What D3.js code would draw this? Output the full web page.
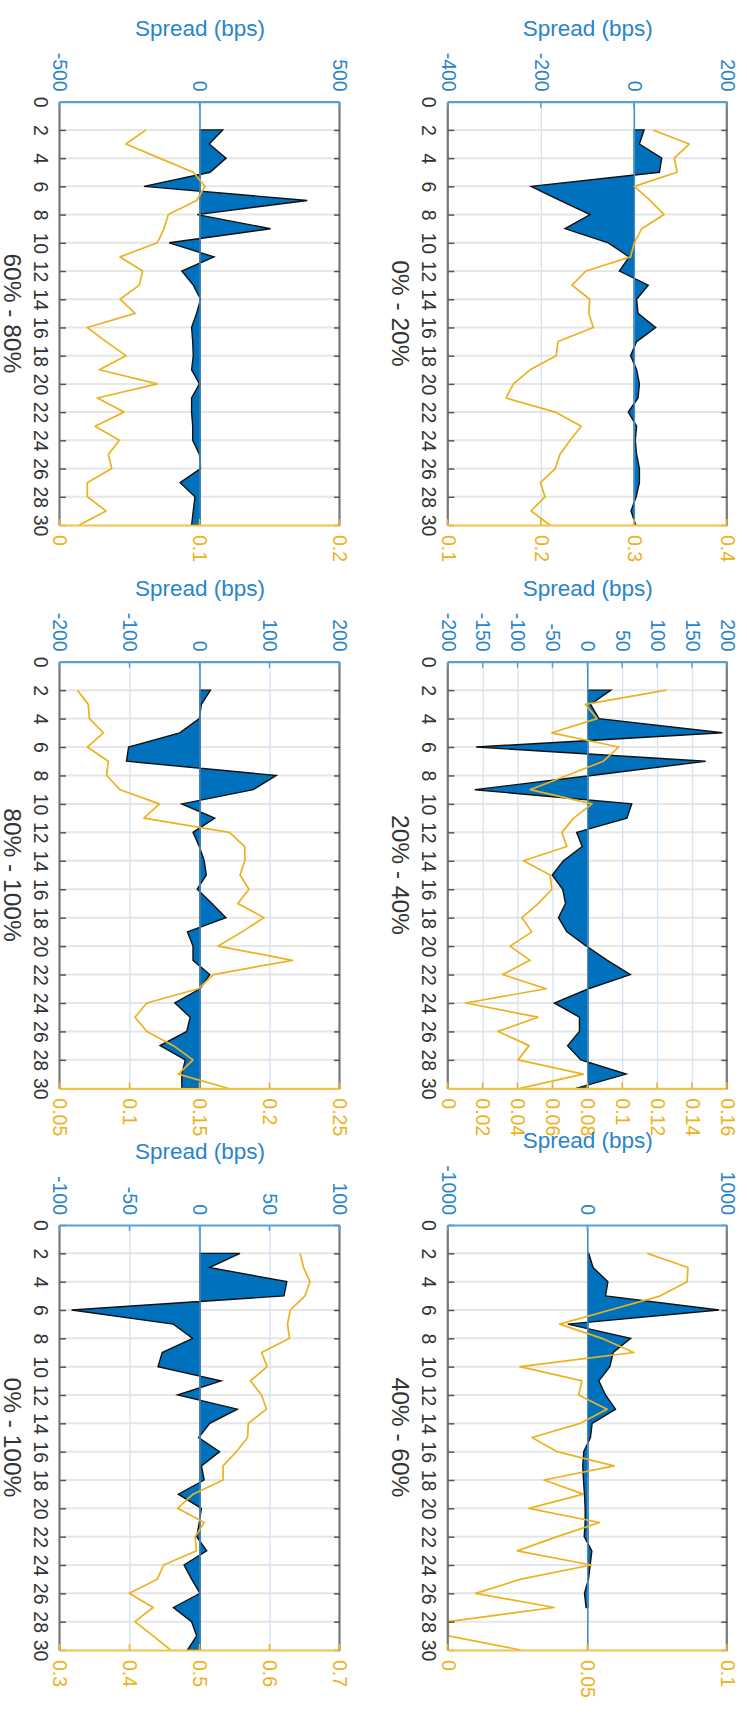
<!DOCTYPE html>
<html><head><meta charset="utf-8">
<script src="https://cdn.jsdelivr.net/npm/d3@7"></script>
<style>html,body{margin:0;padding:0;background:#fff;}svg{display:block;}</style>
</head><body>
<script>
// ---------- data ----------
const horizons = d3.range(2, 31); // 2..30
const xTickValues = d3.range(0, 31, 2);
const panelTitles = ["0% - 20%", "20% - 40%", "40% - 60%", "60% - 80%", "80% - 100%", "0% - 100%"];

const spread_0_20  = [21, 11, 59, 54, -222, -160, -95, -149, -56, -11, -32, 30, 5, 8, 46, 5, -8, 5, 11, 8, -13, 5, 2, 5, 11, 11, 4, -7, 3];
const spread_20_40 = [33, 4, 16, 193, -160, 169, 5, -162, 63, 56, -16, -8, -35, -51, -36, -32, -42, -30, -2, 28, 61, 1, -48, -12, -12, -29, -10, 55, -17];
const spread_40_60 = [7, 38, 144, 127, 941, -144, 307, 182, 158, 79, 127, 199, 31, 19, -29, -36, -31, -24, -19, -19, -26, 29, 17, 5, -24, -12, null, null, null];
const spread_60_80 = [81, 33, 93, 36, -200, 383, -10, 252, -110, 50, -65, -24, 2, -12, -30, -26, -24, -30, -2, -30, -30, -26, -26, -2, 2, -71, -18, -24, -30];
const spread_80_100 = [15, 2, -1, -29, -102, -105, 109, 76, -26, 21, -10, -1, 6, 9, -4, 17, 37, -18, -10, -10, 14, 0, -36, -14, -19, -57, -21, -26, -26];
const spread_0_100 = [28.6, 6.7, 62, 60, -91.7, -19, -5.2, -27, -30, 15, -16, 26.7, 7, -1, 14, 1, 3, -15.5, 1, -0.5, -2.4, 4.8, -11.4, -6, 0, -19, -6, -2.4, -9];

const level_0_20  = [0.320, 0.359, 0.343, 0.346, 0.300, 0.317, 0.332, 0.308, 0.300, 0.296, 0.248, 0.233, 0.252, 0.251, 0.256, 0.218, 0.216, 0.188, 0.170, 0.162, 0.215, 0.243, 0.231, 0.220, 0.215, 0.199, 0.204, 0.189, 0.209];
const level_20_40 = [0.125, 0.0786, 0.0853, 0.0594, 0.0977, 0.089, 0.068, 0.0469, 0.0824, 0.0719, 0.0651, 0.068, 0.0431, 0.0584, 0.0594, 0.0517, 0.0422, 0.0479, 0.0354, 0.0469, 0.0312, 0.0561, 0.0099, 0.0514, 0.0285, 0.0463, 0.040, 0.0774, 0.0411];
const level_40_60 = [0.0713, 0.0859, 0.0856, 0.076, 0.058, 0.0399, 0.055, 0.0665, 0.0257, 0.0479, 0.0467, 0.0569, 0.0473, 0.030, 0.039, 0.0594, 0.0343, 0.0484, 0.0289, 0.0542, 0.039, 0.0247, 0.0513, 0.026, 0.0098, 0.0379, 0, 0, 0.026];
const level_60_80 = [0.0614, 0.0471, 0.0710, 0.0952, 0.1036, 0.0976, 0.0774, 0.0743, 0.0695, 0.0429, 0.0590, 0.0567, 0.0429, 0.0536, 0.0195, 0.0329, 0.0471, 0.0281, 0.0695, 0.0267, 0.0457, 0.0250, 0.0424, 0.0345, 0.0369, 0.0195, 0.0195, 0.0329, 0.0138];
const level_80_100 = [0.0624, 0.0702, 0.071, 0.081, 0.0695, 0.0845, 0.0833, 0.0929, 0.121, 0.110, 0.171, 0.182, 0.182, 0.1786, 0.185, 0.177, 0.1957, 0.180, 0.163, 0.216, 0.1595, 0.1488, 0.112, 0.1036, 0.112, 0.131, 0.145, 0.1345, 0.170];
const level_0_100 = [0.643, 0.648, 0.657, 0.650, 0.629, 0.625, 0.628, 0.588, 0.596, 0.572, 0.588, 0.595, 0.569, 0.568, 0.552, 0.533, 0.533, 0.490, 0.468, 0.506, 0.493, 0.495, 0.448, 0.439, 0.399, 0.433, 0.407, 0.433, 0.458];

const spreadDomains = [[-400, 200], [-200, 200], [-1000, 1000], [-500, 500], [-200, 200], [-100, 100]];
const spreadTicks = [[-400, -200, 0, 200], [-200, -150, -100, -50, 0, 50, 100, 150, 200], [-1000, 0, 1000], [-500, 0, 500], [-200, -100, 0, 100, 200], [-100, -50, 0, 50, 100]];
const levelDomains = [[0.1, 0.4], [0, 0.16], [0, 0.1], [0, 0.2], [0.05, 0.25], [0.3, 0.7]];
const levelTicks = [[0.1, 0.2, 0.3, 0.4], [0, 0.02, 0.04, 0.06, 0.08, 0.1, 0.12, 0.14, 0.16], [0, 0.05, 0.1], [0, 0.1, 0.2], [0.05, 0.1, 0.15, 0.2, 0.25], [0.3, 0.4, 0.5, 0.6, 0.7]];

const spreadSeries = [spread_0_20, spread_20_40, spread_40_60, spread_60_80, spread_80_100, spread_0_100];
const levelSeries = [level_0_20, level_20_40, level_40_60, level_60_80, level_80_100, level_0_100];

// ---------- layout (drawn unrotated, then turned 90deg clockwise) ----------
const W = 747, H = 1714;
const colBounds = [[101.7, 525], [661.7, 1088.3], [1225, 1650]];
const rowBounds = [[19.7, 298.7], [407, 687]];
const FONT = "'Liberation Sans', Arial, Helvetica, sans-serif";
const BLUE = "#0072BD", BLUE_TXT = "#2a84cc", BLUE_AX = "#5a9fd8";
const ORANGE = "#EDB120";
const GRAY_AX = "#777777", TXT = "#333333";

const svg = d3.select("body").append("svg").attr("width", W).attr("height", H);
svg.append("rect").attr("width", W).attr("height", H).attr("fill", "#fff");
const root = svg.append("g").attr("transform", `translate(${W},0) rotate(90)`);

panelTitles.forEach((title, i) => {
  const [x0, x1] = colBounds[i % 3];
  const [y0, y1] = rowBounds[Math.floor(i / 3)];
  const g = root.append("g");
  const x = d3.scaleLinear().domain([0, 30]).range([x0, x1]);
  const ys = d3.scaleLinear().domain(spreadDomains[i]).range([y1, y0]);
  const yl = d3.scaleLinear().domain(levelDomains[i]).range([y1, y0]);

  // grid
  g.append("g").selectAll("line").data(xTickValues.slice(1, -1)).join("line")
    .attr("x1", d => x(d)).attr("x2", d => x(d)).attr("y1", y0).attr("y2", y1)
    .attr("stroke", "#e6e6e6").attr("stroke-width", 2);
  g.append("g").selectAll("line").data(spreadTicks[i].filter(t => t !== 0 && t !== spreadDomains[i][0] && t !== spreadDomains[i][1])).join("line")
    .attr("x1", x0).attr("x2", x1).attr("y1", d => ys(d)).attr("y2", d => ys(d))
    .attr("stroke", "#d3e4f4").attr("stroke-width", 1.3);

  // area
  const pts = horizons.map((h, k) => ({h, v: spreadSeries[i][k]})).filter(d => d.v != null);
  const area = d3.area().x(d => x(d.h)).y0(ys(0)).y1(d => ys(d.v));
  g.append("path").datum(pts).attr("d", area).attr("fill", BLUE)
    .attr("stroke", "#111").attr("stroke-width", 1.4).attr("stroke-linejoin", "miter");
  // baseline
  g.append("line").attr("x1", x0).attr("x2", x1).attr("y1", ys(0)).attr("y2", ys(0))
    .attr("stroke", "#3f8fd2").attr("stroke-width", 1.6);

  // orange line
  const line = d3.line().x(d => x(d.h)).y(d => yl(d.v));
  g.append("path").datum(horizons.map((h, k) => ({h, v: levelSeries[i][k]})))
    .attr("d", line).attr("fill", "none").attr("stroke", ORANGE).attr("stroke-width", 1.7)
    .attr("stroke-linejoin", "round");

  // axes
  const xb = g.append("g").attr("transform", `translate(0,${y1})`)
    .call(d3.axisBottom(x).tickValues(xTickValues).tickSize(-6).tickPadding(12.5).tickSizeOuter(0));
  const xt = g.append("g").attr("transform", `translate(0,${y0})`)
    .call(d3.axisTop(x).tickValues(xTickValues).tickSize(-6).tickFormat("").tickSizeOuter(0));
  [xb, xt].forEach(a => {
    a.select(".domain").attr("stroke", GRAY_AX).attr("stroke-width", 2.2);
    a.selectAll(".tick line").attr("stroke", "#555").attr("stroke-width", 1.5);
  });
  xb.selectAll(".tick text").attr("fill", TXT).style("font", `19.5px ${FONT}`);

  const yaL = g.append("g").attr("transform", `translate(${x0},0)`)
    .call(d3.axisLeft(ys).tickValues(spreadTicks[i]).tickSize(-6).tickPadding(10).tickSizeOuter(0).tickFormat(d => String(d)));
  yaL.select(".domain").attr("stroke", BLUE_AX).attr("stroke-width", 2.2);
  yaL.selectAll(".tick line").attr("stroke", BLUE_AX).attr("stroke-width", 1.5);
  yaL.selectAll(".tick text").attr("fill", BLUE_TXT).style("font", `19.5px ${FONT}`);

  const yaR = g.append("g").attr("transform", `translate(${x1},0)`)
    .call(d3.axisRight(yl).tickValues(levelTicks[i]).tickSize(-6).tickPadding(10).tickSizeOuter(0).tickFormat(d => String(+d.toFixed(3))));
  yaR.select(".domain").attr("stroke", "#F2C14E").attr("stroke-width", 2.2);
  yaR.selectAll(".tick line").attr("stroke", ORANGE).attr("stroke-width", 1.5);
  yaR.selectAll(".tick text").attr("fill", ORANGE).style("font", `19.5px ${FONT}`);

  // labels
  const bb = yaL.node().getBBox();
  const lx = x0 + bb.x - 17;
  g.append("text").attr("transform", `translate(${lx},${(y0 + y1) / 2}) rotate(-90)`)
    .attr("text-anchor", "middle").attr("fill", BLUE_TXT).style("font", `22.5px ${FONT}`)
    .text("Spread (bps)");
  g.append("text").attr("x", (x0 + x1) / 2).attr("y", y1 + 56)
    .attr("text-anchor", "middle").attr("fill", TXT).style("font", `24.5px ${FONT}`)
    .text(title);
});
</script>
</body></html>
